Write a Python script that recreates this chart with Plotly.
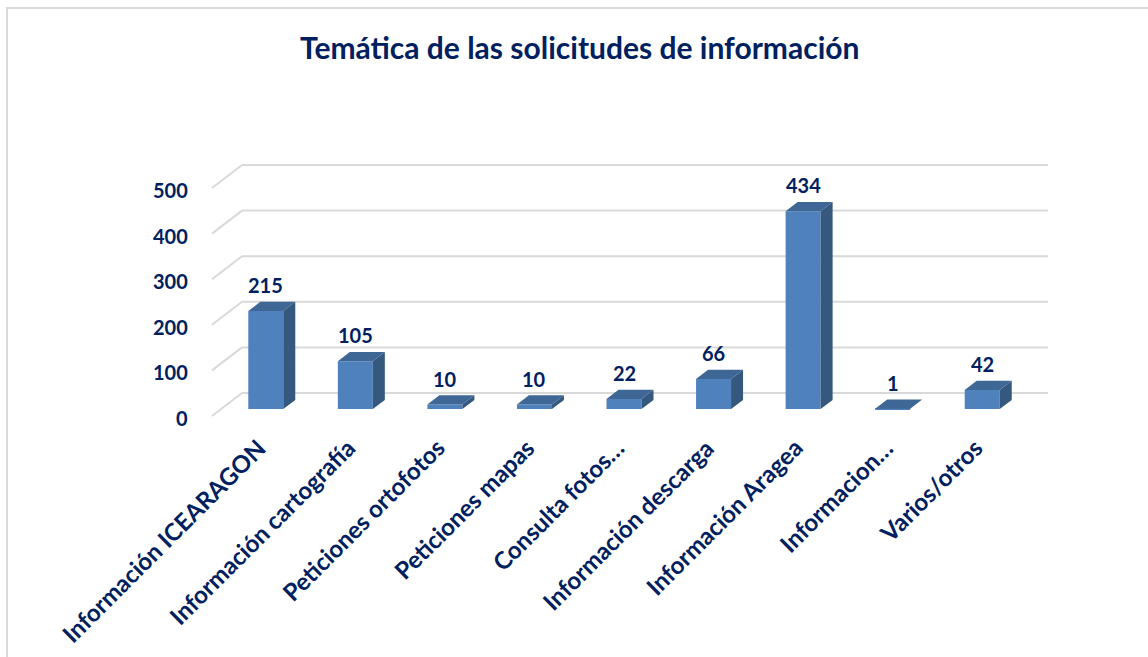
import plotly.graph_objects as go

# ---- data -------------------------------------------------------------
categories = [
    "Información ICEARAGON",
    "Información cartografía",
    "Peticiones ortofotos",
    "Peticiones mapas",
    "Consulta fotos…",
    "Información descarga",
    "Información Aragea",
    "Informacion…",
    "Varios/otros",
]
values = [215, 105, 10, 10, 22, 66, 434, 1, 42]
value_ticks = [0, 100, 200, 300, 400, 500]
title_text = "Temática de las solicitudes de información"

# ---- oblique 3D projection set-up --------------------------------------
W, H = 1148, 657
PX_PER_CAT = 89.556          # pixels per category slot on the front plane
PX_PER_VAL = 0.456           # pixels per unit of value
ORIGIN_PX = (212, 416)       # front-floor origin in page pixels
DEPTH_DX = 30 / PX_PER_CAT   # full depth shift, in category units
DEPTH_DV = 23 / PX_PER_VAL   # full depth shift, in value units
BAR_FRONT, BAR_BACK = 0.3, 0.7
BAR_W = 35 / PX_PER_CAT

NAVY = "#002060"
FRONT = "#4F81BD"
SIDE = "#35587F"
TOP = "#3E6796"
GRID = "#D9D9D9"
FONT = "Lato"

x_range = [-ORIGIN_PX[0] / PX_PER_CAT, (W - ORIGIN_PX[0]) / PX_PER_CAT]
y_range = [-(H - ORIGIN_PX[1]) / PX_PER_VAL, ORIGIN_PX[1] / PX_PER_VAL]

n = len(categories)
base = BAR_FRONT * DEPTH_DV
x_front = [i + 0.5 + BAR_FRONT * DEPTH_DX for i in range(n)]
dxd = (BAR_BACK - BAR_FRONT) * DEPTH_DX
dvd = (BAR_BACK - BAR_FRONT) * DEPTH_DV

fig = go.Figure()

# front faces
fig.add_trace(go.Bar(
    x=x_front, y=values, base=[base] * n, width=BAR_W,
    marker=dict(color=FRONT, line=dict(width=0)),
    hoverinfo="skip",
))

# side and top faces
side_x, side_y, top_x, top_y = [], [], [], []
for xc, v in zip(x_front, values):
    xl, xr = xc - BAR_W / 2, xc + BAR_W / 2
    vb, vt = base, base + v
    side_x += [xr, xr + dxd, xr + dxd, xr, xr, None]
    side_y += [vb, vb + dvd, vt + dvd, vt, vb, None]
    top_x += [xl, xr, xr + dxd, xl + dxd, xl, None]
    top_y += [vt, vt, vt + dvd, vt + dvd, vt, None]

fig.add_trace(go.Scatter(x=side_x, y=side_y, mode="lines", fill="toself",
                         fillcolor=SIDE, line=dict(width=0, color=SIDE),
                         hoverinfo="skip"))
fig.add_trace(go.Scatter(x=top_x, y=top_y, mode="lines", fill="toself",
                         fillcolor=TOP, line=dict(width=0, color=TOP),
                         hoverinfo="skip"))

# walls: gridlines on the side wall and back wall
shapes = []
for v in value_ticks:
    shapes.append(dict(type="line", xref="x", yref="y", layer="below",
                       x0=0, y0=v, x1=DEPTH_DX, y1=v + DEPTH_DV,
                       line=dict(color=GRID, width=2)))
    shapes.append(dict(type="line", xref="x", yref="y", layer="below",
                       x0=DEPTH_DX, y0=v + DEPTH_DV, x1=n + DEPTH_DX, y1=v + DEPTH_DV,
                       line=dict(color=GRID, width=2)))

# chart frame
shapes.append(dict(type="line", xref="paper", yref="paper",
                   x0=6 / W, x1=1, y0=1 - 8 / H, y1=1 - 8 / H,
                   line=dict(color=GRID, width=2)))
shapes.append(dict(type="line", xref="paper", yref="paper",
                   x0=7 / W, x1=7 / W, y0=0, y1=1 - 8 / H,
                   line=dict(color=GRID, width=2)))

annotations = []
lab_font = dict(family=FONT, size=20, color=NAVY, weight="bold")
cat_font = dict(family=FONT, size=24, color=NAVY, weight="bold")

# value axis labels
for v in value_ticks:
    annotations.append(dict(x=0, y=v, xref="x", yref="y", text=str(v),
                            showarrow=False, xanchor="right", yanchor="middle",
                            xshift=-22, yshift=-2, font=lab_font))

# data labels
for xc, v in zip(x_front, values):
    annotations.append(dict(x=xc, y=base + v, xref="x", yref="y", text=str(v),
                            showarrow=False, xanchor="center", yanchor="middle",
                            yshift=26, font=lab_font))

# category labels
for i, c in enumerate(categories):
    annotations.append(dict(x=i + 0.5, y=0, xref="x", yref="y", text=c,
                            showarrow=False, textangle=-45,
                            xanchor="right", yanchor="top",
                            xshift=17, yshift=-14, font=cat_font))

# title
annotations.append(dict(x=579 / W, y=1 - 47 / H, xref="paper", yref="paper",
                        text=title_text, showarrow=False,
                        xanchor="center", yanchor="middle",
                        font=dict(family=FONT, size=30, color=NAVY, weight="bold")))

fig.update_layout(
    width=W, height=H,
    margin=dict(l=0, r=0, t=0, b=0),
    paper_bgcolor="white", plot_bgcolor="white",
    showlegend=False,
    xaxis=dict(range=x_range, visible=False, fixedrange=True),
    yaxis=dict(range=y_range, visible=False, fixedrange=True),
    shapes=shapes,
    annotations=annotations,
)

fig.write_html("out.html")
